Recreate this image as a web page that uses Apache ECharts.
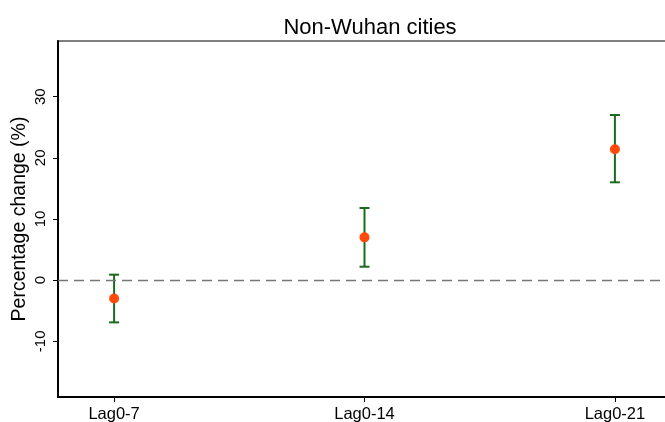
<!DOCTYPE html>
<html>
<head>
<meta charset="utf-8">
<script src="https://cdn.jsdelivr.net/npm/echarts@6/dist/echarts.min.js"></script>
<style>html,body{margin:0;padding:0;background:#fff;}#c{width:665px;height:422px;}</style>
</head>
<body>
<div id="c"></div>
<script>
const categories = ['Lag0-7', 'Lag0-14', 'Lag0-21'];
const estimates = [-3.0, 7.0, 21.4];
const lower = [-6.9, 2.2, 16.0];
const upper = [0.9, 11.8, 27.0];
const yTicks = [-10, 0, 10, 20, 30];

const positions = categories.map((_, i) => i + 1);
const ciData = positions.map((p, i) => [p, lower[i], upper[i]]);
const ptData = positions.map((p, i) => [p, estimates[i]]);

const chart = echarts.init(document.getElementById('c'), null, {renderer: 'canvas'});
const font = 'Liberation Sans, Arial, Helvetica, sans-serif';
chart.setOption({
  animation: false,
  backgroundColor: '#fff',
  title: {
    text: 'Non-Wuhan cities',
    left: 365, top: 12, textAlign: 'center',
    textStyle: {fontFamily: font, fontSize: 22, fontWeight: 'normal', color: '#000'}
  },
  grid: {left: 58, top: 41, right: -6, bottom: 25, show: true, borderColor: '#000', borderWidth: 1.2, outerBoundsMode: 'none', containLabel: false},
  xAxis: {
    type: 'value', min: 0.776, max: 3.224,
    splitLine: {show: false},
    axisLine: {show: true, onZero: false, lineStyle: {color: '#000', width: 2}},
    axisTick: {show: true, length: 5, lineStyle: {color: '#000'}, customValues: positions},
    axisLabel: {
      customValues: positions, margin: 9,
      formatter: v => categories[Math.round(v) - 1] || '',
      fontFamily: font, fontSize: 16.5, color: '#000'
    }
  },
  yAxis: {
    type: 'value', min: -19.1, max: 39.1,
    name: 'Percentage change (%)', nameLocation: 'middle', nameGap: 28, nameMoveOverlap: false,
    nameTextStyle: {fontFamily: font, fontSize: 19.5, color: '#000'},
    splitLine: {show: false},
    axisLine: {show: true, onZero: false, lineStyle: {color: '#000', width: 2}},
    axisTick: {show: true, length: 5, lineStyle: {color: '#000'}, customValues: yTicks},
    axisLabel: {customValues: yTicks, rotate: 90, margin: 10, fontFamily: font, fontSize: 15, color: '#000'}
  },
  series: [
    {
      type: 'line', data: [], silent: true,
      markLine: {
        silent: true, symbol: 'none', label: {show: false},
        lineStyle: {color: '#777', type: [10, 6], width: 1.3},
        data: [{yAxis: 0}]
      }
    },
    {
      type: 'custom',
      data: ciData,
      encode: {x: 0, y: [1, 2]},
      renderItem: function (params, api) {
        const x = api.value(0);
        const lo = api.coord([x, api.value(1)]);
        const hi = api.coord([x, api.value(2)]);
        const w = 5;
        const style = {stroke: '#1b6a1f', lineWidth: 2};
        return {
          type: 'group',
          children: [
            {type: 'line', shape: {x1: lo[0], y1: lo[1], x2: hi[0], y2: hi[1]}, style},
            {type: 'line', shape: {x1: lo[0] - w, y1: lo[1], x2: lo[0] + w, y2: lo[1]}, style},
            {type: 'line', shape: {x1: hi[0] - w, y1: hi[1], x2: hi[0] + w, y2: hi[1]}, style}
          ]
        };
      }
    },
    {
      type: 'scatter', data: ptData, symbolSize: 10,
      itemStyle: {color: '#ff4a0a', opacity: 1}
    }
  ]
});
</script>
</body>
</html>
